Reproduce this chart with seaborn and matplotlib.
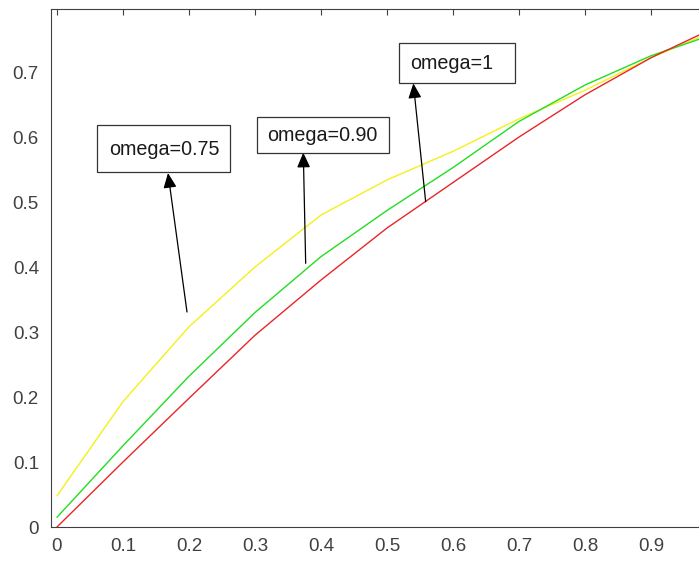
import matplotlib
matplotlib.use('Agg')
import matplotlib.pyplot as plt
from matplotlib.patches import Rectangle
import seaborn as sns
import pandas as pd

# --- datos ---
x_vals = [0, 0.1, 0.2, 0.3, 0.4, 0.5, 0.6, 0.7, 0.8, 0.9, 1.0]
y_075 = [0.048, 0.193, 0.308, 0.400, 0.480, 0.534, 0.578, 0.628, 0.672, 0.722, 0.765]
y_090 = [0.015, 0.125, 0.232, 0.330, 0.416, 0.487, 0.553, 0.624, 0.680, 0.725, 0.760]
y_100 = [0.000, 0.100, 0.198, 0.295, 0.380, 0.460, 0.530, 0.600, 0.665, 0.722, 0.770]
series_names = ['omega=0.75', 'omega=0.90', 'omega=1']
series_colors = ['#f5f018', '#22dd22', '#e8262a']
x_ticks = [0, 0.1, 0.2, 0.3, 0.4, 0.5, 0.6, 0.7, 0.8, 0.9, 1.0]
x_labels = ['0', '0.1', '0.2', '0.3', '0.4', '0.5', '0.6', '0.7', '0.8', '0.9', '']
y_ticks = [0, 0.1, 0.2, 0.3, 0.4, 0.5, 0.6, 0.7]
y_labels = ['0', '0.1', '0.2', '0.3', '0.4', '0.5', '0.6', '0.7']

df = pd.DataFrame({
    'x': x_vals * 3,
    'y': y_075 + y_090 + y_100,
    'omega': [n for n in series_names for _ in x_vals],
})

sns.set_style('white')
plt.rcParams['font.family'] = ['Liberation Sans', 'DejaVu Sans']

axis_color = '#404040'

fig = plt.figure(figsize=(6.99, 5.62), dpi=100)
ax = fig.add_axes([51.5 / 699, 35 / 562, (717 - 51.5) / 699, 518 / 562])

sns.lineplot(data=df, x='x', y='y', hue='omega', hue_order=series_names,
             palette=series_colors, linewidth=1.0, legend=False, ax=ax)

ax.set_xlim(-0.0083, 1.0)
ax.set_ylim(0, 0.797)
ax.set_xticks(x_ticks)
ax.set_yticks(y_ticks)
ax.set_xticklabels(x_labels)
ax.set_yticklabels(y_labels)
ax.set_xlabel('')
ax.set_ylabel('')
ax.tick_params(axis='both', direction='in', length=4.5, width=0.8, color=axis_color,
               labelcolor=axis_color, labelsize=13.5, top=True, right=True)
ax.tick_params(axis='x', pad=8)
ax.tick_params(axis='y', pad=9)
for sp in ax.spines.values():
    sp.set_color(axis_color)
    sp.set_linewidth(0.8)

# --- anotaciones (cuadros de texto con flecha) ---
boxes = [
    (0.0606, 0.5462, 0.2621, 0.6185),
    (0.3030, 0.5754, 0.5030, 0.6308),
    (0.5182, 0.6831, 0.6939, 0.7446),
]
text_pos = [(0.1621, 0.5815), (0.4015, 0.6031), (0.5985, 0.7138)]
arrow_tail = [(0.1970, 0.3308), (0.3768, 0.4057), (0.5586, 0.5005)]
arrow_head = [(0.1682, 0.5446), (0.3732, 0.5759), (0.5399, 0.6826)]

for name, b, tp, tail, head in zip(series_names, boxes, text_pos, arrow_tail, arrow_head):
    ax.annotate('', xy=head, xytext=tail,
                arrowprops=dict(arrowstyle='-|>,head_length=0.9,head_width=0.4',
                                color='black', lw=0.9, mutation_scale=10,
                                shrinkA=0, shrinkB=0))
    ax.add_patch(Rectangle((b[0], b[1]), b[2] - b[0], b[3] - b[1],
                           facecolor='white', edgecolor='#333333', lw=0.9, zorder=5))
    ax.text(tp[0], tp[1], name, ha='center', va='center', fontsize=14.2,
            color='#1a1a1a', zorder=6)

fig.savefig('out.png', dpi=100)
